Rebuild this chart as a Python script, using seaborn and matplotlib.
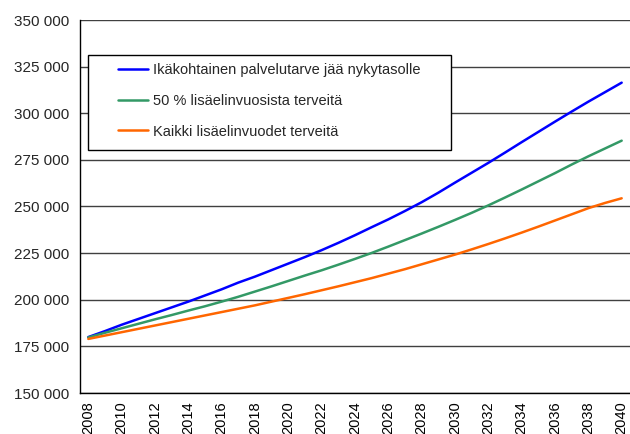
import matplotlib
matplotlib.use('Agg')
import numpy as np
import pandas as pd
import matplotlib.pyplot as plt
import matplotlib.ticker as mticker
from matplotlib.patches import Rectangle
import seaborn as sns

# Data (thousands)
years = list(range(2008, 2041))
blue_vals = [180.0, 183.2, 186.6, 189.7, 192.8, 195.9, 199.0, 202.3, 205.6, 209.2,
             212.4, 215.9, 219.4, 222.9, 226.6, 230.5, 234.6, 238.9, 243.1, 247.6,
             252.3, 257.4, 262.8, 268.1, 273.4, 278.9, 284.5, 290.0, 295.5, 300.9,
             306.2, 311.3, 316.4]
green_vals = [179.8, 182.3, 184.7, 187.1, 189.5, 191.8, 194.2, 196.5, 199.0, 201.6,
              204.4, 207.2, 210.1, 213.0, 215.8, 218.8, 221.9, 225.1, 228.5, 232.0,
              235.5, 239.1, 242.8, 246.6, 250.6, 254.8, 259.1, 263.5, 267.9, 272.5,
              276.9, 281.1, 285.3]
orange_vals = [179.0, 180.8, 182.6, 184.4, 186.2, 188.0, 189.8, 191.6, 193.4, 195.2,
               197.0, 199.0, 201.0, 203.0, 205.1, 207.2, 209.4, 211.6, 214.0, 216.4,
               219.0, 221.6, 224.2, 227.0, 229.9, 232.9, 236.0, 239.2, 242.5, 245.8,
               249.1, 251.9, 254.4]
series_names = ['Ikäkohtainen palvelutarve jää nykytasolle',
                '50 % lisäelinvuosista terveitä',
                'Kaikki lisäelinvuodet terveitä']
colors = ['#0000FF', '#339966', '#FF6600']

# Long-form table for seaborn
rows = []
for name, vals in zip(series_names, [blue_vals, green_vals, orange_vals]):
    for i, v in enumerate(vals):
        rows.append({'idx': i, 'year': years[i], 'value': v * 1000, 'series': name})
df = pd.DataFrame(rows)

sns.set_style('white')
plt.rcParams['font.family'] = ['Liberation Sans', 'DejaVu Sans']
plt.rcParams['font.size'] = 10.5

fig = plt.figure(figsize=(6.3, 4.34), dpi=100)
ax_w = 550.0
ax = fig.add_axes([80 / 630, 41 / 434, ax_w / 630, 373 / 434])

sns.lineplot(data=df, x='idx', y='value', hue='series', hue_order=series_names,
             palette=colors, linewidth=1.8, ax=ax, legend=False, zorder=3)

# Axes
ax.set_xlim(-0.5, len(years) - 0.5)
ax.set_ylim(150000, 350000)
ax.set_yticks(np.arange(150000, 350001, 25000))
ax.yaxis.set_major_formatter(mticker.FuncFormatter(lambda v, p: f'{int(v):,}'.replace(',', ' ')))
ax.set_xticks(range(0, len(years), 2))
ax.set_xticklabels([str(y) for y in years[::2]], rotation=90)
ax.set_xticks(np.arange(-0.5, len(years), 1), minor=True)
ax.tick_params(axis='x', which='major', length=0, pad=6, labelsize=10.5, colors='black')
ax.tick_params(axis='x', which='minor', length=4, width=1, color='black', direction='out')
ax.tick_params(axis='y', which='major', length=4, width=1, color='black', direction='out',
               labelsize=11, pad=4)
ax.set_xlabel('')
ax.set_ylabel('')

ax.grid(axis='y', color='#404040', linewidth=1)
ax.set_axisbelow(True)
for s in ['top', 'right']:
    ax.spines[s].set_visible(False)
for s in ['left', 'bottom']:
    ax.spines[s].set_color('black')
    ax.spines[s].set_linewidth(1)

# Legend box
box = Rectangle((8 / ax_w, 1 - 130 / 373), 363 / ax_w, 95 / 373, transform=ax.transAxes,
                facecolor='white', edgecolor='black', linewidth=1, zorder=4)
ax.add_patch(box)
handles = [plt.Line2D([], [], color=c, linewidth=1.8) for c in colors]
leg = ax.legend(handles, series_names, loc='upper left', frameon=False,
                bbox_to_anchor=(38 / ax_w, 1 - 43 / 373), borderpad=0, borderaxespad=0,
                handlelength=2.05, handletextpad=0.35, labelspacing=1.15, fontsize=10.5)
leg.set_zorder(5)

plt.savefig('out.png', dpi=100)
